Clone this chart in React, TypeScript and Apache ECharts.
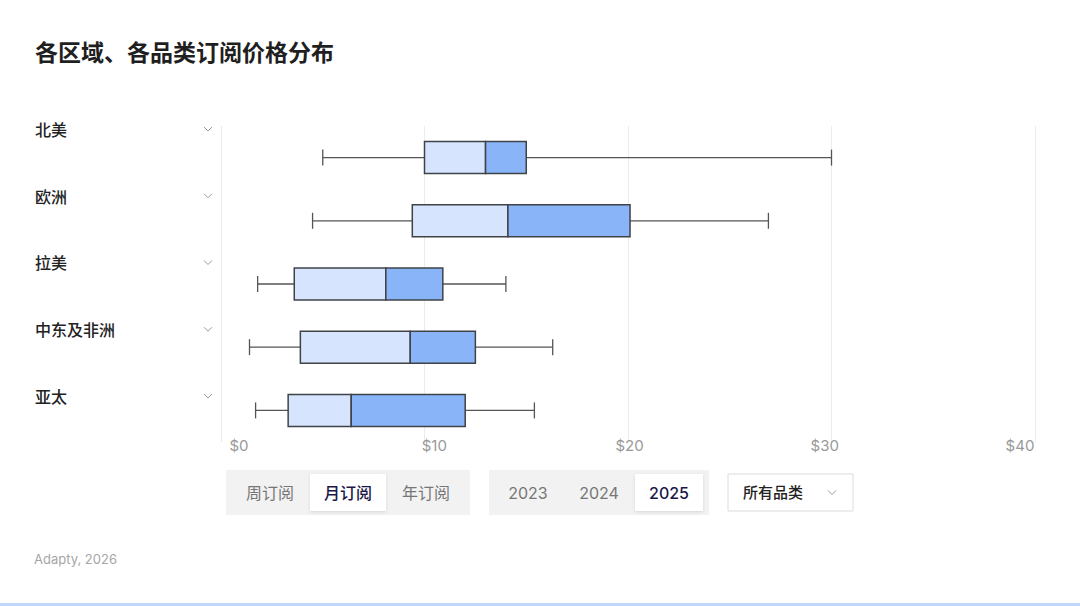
import React, { useEffect, useRef } from "react";
import * as echarts from "echarts";

const regions = ["北美", "欧洲", "拉美", "中东及非洲", "亚太"];
// [min, q1, median, q3, max]
const boxValues = [
  [5.0, 10.0, 13.0, 15.0, 30.0],
  [4.5, 9.4, 14.1, 20.1, 26.9],
  [1.8, 3.6, 8.1, 10.9, 14.0],
  [1.4, 3.9, 9.3, 12.5, 16.3],
  [1.7, 3.3, 6.4, 12.0, 15.4],
];
const xTicks = [0, 10, 20, 30, 40];
const periodTabs = ["周订阅", "月订阅", "年订阅"];
const yearTabs = ["2023", "2024", "2025"];
const categoryFilter = "所有品类";
const titleText = "各区域、各品类订阅价格分布";
const sourceText = "Adapty, 2026";

const FONT = "Inter, 'Noto Sans CJK SC', sans-serif";

export default function App() {
  const ref = useRef<HTMLDivElement>(null);
  useEffect(() => {
    if (!ref.current) return;
    const chart = echarts.init(ref.current, null, { renderer: "svg" });

    const labelTop = 95.6;
    const labelBand = 66.75;
    const chevron = (cx: number, cy: number) => ({
      type: "polyline",
      shape: { points: [[cx - 4, cy - 2], [cx, cy + 2], [cx + 4, cy - 2]] },
      style: { stroke: "#9a9a9a", lineWidth: 1, fill: null },
    });

    const tabText = (text: string, x: number, selected: boolean) => ({
      type: "text",
      x,
      y: 492.5,
      style: {
        text,
        fill: selected ? "#1c1748" : "#767676",
        font: `${selected ? 500 : 400} 16px ${FONT}`,
        align: "center",
        verticalAlign: "middle",
      },
    });

    const graphic: any[] = [
      {
        type: "text",
        x: 35,
        y: 51,
        style: {
          text: titleText,
          fill: "#1f1f1f",
          font: `600 23px 'Noto Sans CJK SC', sans-serif`,
          verticalAlign: "middle",
        },
      },
      ...regions.map((_, i) => chevron(208, labelTop + labelBand * (i + 0.5))),
      // period segmented control
      { type: "rect", shape: { x: 226, y: 470, width: 244, height: 45 }, style: { fill: "#f2f2f2" } },
      {
        type: "rect",
        shape: { x: 310, y: 474, width: 76, height: 37 },
        style: { fill: "#ffffff", shadowBlur: 3, shadowColor: "rgba(0,0,0,0.12)", shadowOffsetY: 1 },
      },
      ...periodTabs.map((t, i) => tabText(t, [270, 348, 426][i], i === 1)),
      // year segmented control
      { type: "rect", shape: { x: 489, y: 470, width: 220, height: 45 }, style: { fill: "#f2f2f2" } },
      {
        type: "rect",
        shape: { x: 635, y: 474, width: 68, height: 37 },
        style: { fill: "#ffffff", shadowBlur: 3, shadowColor: "rgba(0,0,0,0.12)", shadowOffsetY: 1 },
      },
      ...yearTabs.map((t, i) => tabText(t, [528, 599, 669][i], i === 2)),
      // dropdown
      {
        type: "rect",
        shape: { x: 728, y: 474, width: 125, height: 37 },
        style: { fill: "#ffffff", stroke: "#dcdcdc", lineWidth: 1 },
      },
      {
        type: "text",
        x: 743,
        y: 492.5,
        style: { text: categoryFilter, fill: "#222222", font: `500 15px ${FONT}`, verticalAlign: "middle" },
      },
      chevron(832, 492.5),
      {
        type: "text",
        x: 34,
        y: 559,
        style: { text: sourceText, fill: "#a6a6a6", font: `13px ${FONT}`, verticalAlign: "middle" },
      },
      { type: "rect", shape: { x: 0, y: 603, width: 1080, height: 3 }, style: { fill: "#c0d6fb" } },
    ];

    const data = boxValues.map((v, i) => [i, ...v]);

    chart.setOption({
      animation: false,
      backgroundColor: "#ffffff",
      textStyle: { fontFamily: FONT },
      grid: [
        { left: 221, width: 814, top: 126, height: 316 },
        { left: 239, width: 781, top: labelTop, height: labelBand * 5 },
      ],
      xAxis: [
        {
          type: "value",
          gridIndex: 0,
          min: 0,
          max: 40,
          interval: 10,
          axisLine: { show: false },
          axisTick: { show: false },
          axisLabel: { show: false },
          splitLine: { lineStyle: { color: "#ececec", width: 1 } },
        },
        {
          type: "value",
          gridIndex: 1,
          min: xTicks[0],
          max: xTicks[xTicks.length - 1],
          interval: 10,
          axisLine: { show: false },
          axisTick: { show: false },
          splitLine: { show: false },
          axisLabel: {
            color: "#999999",
            fontSize: 15,
            margin: 9,
            formatter: (v: number) => "$" + v,
          },
        },
      ],
      yAxis: [
        {
          type: "category",
          gridIndex: 0,
          data: regions,
          inverse: true,
          axisLine: { show: false },
          axisTick: { show: false },
          axisLabel: { show: false },
          splitLine: { show: false },
        },
        {
          type: "category",
          gridIndex: 1,
          data: regions,
          inverse: true,
          axisLine: { show: false },
          axisTick: { show: false },
          splitLine: { show: false },
          axisLabel: {
            align: "left",
            margin: 204,
            color: "#222222",
            fontSize: 16,
            fontWeight: 500,
            fontFamily: "'Noto Sans CJK SC', sans-serif",
          },
        },
      ],
      series: [
        {
          type: "custom",
          xAxisIndex: 0,
          yAxisIndex: 0,
          encode: { x: [1, 2, 3, 4, 5], y: 0 },
          data,
          renderItem: (params: any, api: any) => {
            const cat = api.value(0);
            const p = [1, 2, 3, 4, 5].map((k) => api.coord([api.value(k), cat]));
            const band = api.size([0, 1])[1];
            const bh = band * 0.506;
            const cy = p[0][1];
            const capH = bh / 2;
            const lineStyle = { stroke: "#555555", lineWidth: 1.3 };
            const boxStroke = { stroke: "#3f4348", lineWidth: 1.5 };
            return {
              type: "group",
              children: [
                { type: "line", shape: { x1: p[0][0], y1: cy, x2: p[1][0], y2: cy }, style: lineStyle },
                { type: "line", shape: { x1: p[3][0], y1: cy, x2: p[4][0], y2: cy }, style: lineStyle },
                { type: "line", shape: { x1: p[0][0], y1: cy - capH / 2, x2: p[0][0], y2: cy + capH / 2 }, style: lineStyle },
                { type: "line", shape: { x1: p[4][0], y1: cy - capH / 2, x2: p[4][0], y2: cy + capH / 2 }, style: lineStyle },
                {
                  type: "rect",
                  shape: { x: p[1][0], y: cy - bh / 2, width: p[2][0] - p[1][0], height: bh },
                  style: { fill: "#d7e4fd", ...boxStroke },
                },
                {
                  type: "rect",
                  shape: { x: p[2][0], y: cy - bh / 2, width: p[3][0] - p[2][0], height: bh },
                  style: { fill: "#8ab4f8", ...boxStroke },
                },
              ],
            };
          },
        },
      ],
      graphic,
    });

    return () => chart.dispose();
  }, []);

  return (
    <div
      ref={ref}
      style={{ position: "fixed", left: 0, top: 0, width: 1080, height: 606, background: "#fff" }}
    />
  );
}
